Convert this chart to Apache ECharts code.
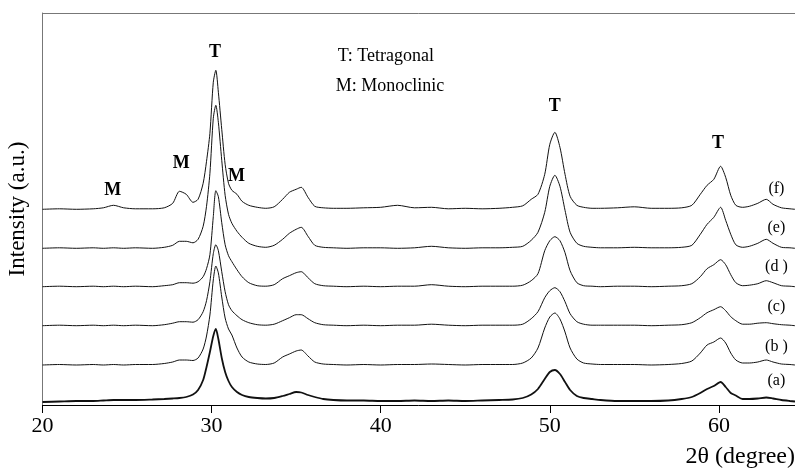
<!DOCTYPE html>
<html><head><meta charset="utf-8">
<script src="https://cdn.jsdelivr.net/npm/echarts@6/dist/echarts.min.js"></script>
<style>html,body{margin:0;padding:0;background:#fff}#c{width:795px;height:470px}</style>
</head><body><div id="c"></div>
<script>
// 2-theta sample positions (degrees)
const twoTheta = [20,21,22,23,23.6,24.2,24.8,25.5,26.5,27.2,27.7,28.1,28.5,28.9,29.2,29.5,29.7,29.9,30.1,30.25,30.4,30.6,30.8,31.0,31.2,31.5,31.8,32.2,32.7,33.2,33.7,34.2,34.6,35.0,35.3,35.7,36.1,36.6,37.2,38,39,40,41,42,43,44,45,46,47,47.8,48.4,48.9,49.3,49.7,50.0,50.3,50.6,50.9,51.2,51.6,52.0,52.5,53,54,55,56,57,57.8,58.4,58.9,59.3,59.7,60.1,60.4,60.7,61.0,61.4,61.8,62.3,62.8,63.2,63.7,64.2,64.5];

// intensities above each curve's own baseline (a.u.)
const curveA = [0,0.5,1,1,1.5,2,2,2,2.5,3,3.5,4,5,7.5,12,22,35,50,66,73,63,44,30,21,15,10,7,5,4,3.5,4,6,8,10,9.5,7,5,3,2,1.5,1.5,1,1,1.5,1,1.5,1,1.5,2,2.5,4,7.5,13,23,30,32,28,20,12,6,4,3,2,1,1,1,1.5,3,5,9,13,16,20,15,9,6.5,3,3,3.5,4.5,3.5,2,1,0.5];
const curveB = [0,0.5,0,0.5,0,0.5,0,0.5,0.5,1.5,3,5,5,4.5,7,16,29,50,85,99,92,68,47,36,30,17,8,3,1,0.5,2,8,11,14,15,9,3,1,0.5,0,0.5,0,0.5,0.5,1,0.5,0,0.5,0.5,0.5,2,7,17,37,48,52,46,33,17,6,2,1,0.5,0.5,0.5,0,0.5,1.5,4,12,20,23,27,22,12,5,2,2,3,5,3,1,0.5,0];
const curveC = [0,0.5,0,0.5,0,0.5,0,0.5,0,1,2.5,4,4,3.5,6,14,25,44,72,81,75,54,34,21,15,10,6,3,1,0.5,1.5,5,8,11,11,7,3,1,0.5,0,0.5,0,0.5,0.5,1.5,0.5,0,0.5,0.5,0.5,1.5,7,14,28,35,38,34,24,12,4,1.5,0.5,0.5,0.5,0.5,0,0.5,1,3,8,13,16,19,15,9,5,1.5,1.5,2.5,3,2,1,0.5,0];
const curveD = [0,0.5,0,0.5,0,0.5,0,0.5,0,1,2,4,4,3.5,5,10,18,32,70,96,90,64,42,31,25,17,10,4,1,0.5,2,8,11,14,15,9,3,1,0.5,0,0.5,0,0.5,0.5,2,0.5,0,0.5,0.5,0.5,1.5,6,13,36,46,50,46,34,16,4,1,0.5,0,0.5,0.5,0,0.5,1,3,10,18,22,27,22,12,4,1,1.5,3,6,4,1,0.5,0];
const curveE = [0,0.5,0,0.5,0,0.5,0,0.5,0,1,3,7,7,5.5,9,22,42,75,130,143,126,88,53,34,25,17,11,5,2,1,3,9,15,19,21,12,3,1,0.5,0,0.5,0.5,0,0.5,2,0.5,0,0.5,0.5,1,2,8,16,36,62,73,62,38,16,5,2,1,0.5,0.5,1,0.5,0.5,1,3,14,24,31,41,28,14,3.5,1,2,5,9,5,1,0.5,0];
const curveF = [0,0.5,0,0.5,1.5,4,1.5,0.5,0.5,1.5,6,18,15,7,10,26,48,76,127,139,117,80,45,26,19,15,8,4,2,1,2.5,10,17,20,22,12,3,1.5,1,1,1.5,2,4,1.5,2,0.5,1,0.5,1,2,3.5,10,15,35,65,77,62,35,13,4,2,1,1,1.5,2.5,1,1,1.5,4,15,24,30,43,32,14,4,2,3,6,10,5,1.5,0.5,0];

const curves = [curveA, curveB, curveC, curveD, curveE, curveF];
const baseOffsets = [3, 40, 79.3, 118.3, 156.7, 195.7];
const curveNames = ['(a)', '(b )', '(c)', '(d )', '(e)', '(f)'];
const curveLabelX = 63.4;
const curveLabelY = [24, 58.3, 98.3, 138.3, 177.3, 216.7];

const peakLabels = ['T', 'M', 'M', 'M', 'T', 'T'];
const peakLabelX = [30.2, 24.16, 28.2, 31.47, 50.29, 59.95];
const peakLabelY = [353, 215, 241.7, 229, 298.3, 261.7];

const noteTexts = ['T: Tetragonal', 'M: Monoclinic'];
const noteX = [37.46, 37.34];
const noteY = [348.3, 319];

const xTickMin = 20, xTickMax = 64.5, xTickStep = 10;

const SERIF = '"Liberation Serif", "Times New Roman", serif';
const chart = echarts.init(document.getElementById('c'), null, {renderer: 'canvas'});

const series = curves.map((vals, k) => ({
  type: 'line',
  name: curveNames[k],
  data: twoTheta.map((x, i) => [x, baseOffsets[k] + vals[i]]),
  showSymbol: false,
  smooth: 0.25,
  lineStyle: {color: '#111', width: k === 0 ? 1.8 : 1},
  animation: false,
  z: 3
}));

chart.setOption({
  animation: false,
  grid: {left: 42.5, right: 0, top: 13, bottom: 65, outerBoundsMode: 'none', containLabel: false},
  xAxis: [{
    type: 'value', min: xTickMin, max: xTickMax, interval: xTickStep, position: 'bottom',
    axisLine: {lineStyle: {color: '#000', width: 1}},
    axisTick: {inside: false, length: 8, lineStyle: {color: '#000'}},
    axisLabel: {fontFamily: SERIF, fontSize: 22, color: '#000', margin: 10, showMaxLabel: false},
    splitLine: {show: false}
  }, {
    type: 'value', min: xTickMin, max: xTickMax, position: 'top',
    axisLine: {show: true, lineStyle: {color: '#777', width: 1}},
    axisTick: {show: false}, axisLabel: {show: false}, splitLine: {show: false}
  }],
  yAxis: {
    type: 'value', min: 0, max: 392,
    axisLine: {show: true, lineStyle: {color: '#777', width: 1}},
    axisTick: {show: false}, axisLabel: {show: false}, splitLine: {show: false},
    name: 'Intensity (a.u.)', nameLocation: 'middle', nameGap: 13,
    nameTextStyle: {fontFamily: SERIF, fontSize: 23, color: '#000'}
  },
  series: series
});

function px(x, y) { return chart.convertToPixel({xAxisIndex: 0, yAxisIndex: 0}, [x, y]); }
const graphics = [];
peakLabels.forEach((t, i) => {
  const p = px(peakLabelX[i], peakLabelY[i]);
  graphics.push({type: 'text', x: p[0], y: p[1], style: {text: t, font: 'bold 18px ' + SERIF, fill: '#000', textAlign: 'center', textVerticalAlign: 'middle'}});
});
curveNames.forEach((t, i) => {
  const p = px(curveLabelX, curveLabelY[i]);
  graphics.push({type: 'text', x: p[0], y: p[1], style: {text: t, font: '16px ' + SERIF, fill: '#000', textAlign: 'center', textVerticalAlign: 'middle'}});
});
noteTexts.forEach((t, i) => {
  const p = px(noteX[i], noteY[i]);
  graphics.push({type: 'text', x: p[0], y: p[1], style: {text: t, font: '18px ' + SERIF, fill: '#000', textAlign: 'left', textVerticalAlign: 'middle'}});
});
graphics.push({type: 'text', right: 0, top: 445, style: {text: '2θ (degree)', font: '24px ' + SERIF, fill: '#000'}});
chart.setOption({graphic: graphics});
</script>
</body></html>
